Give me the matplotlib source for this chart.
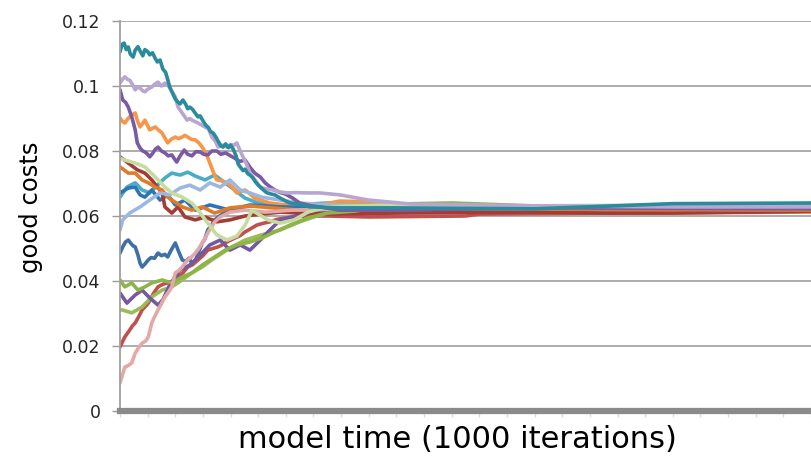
import matplotlib
matplotlib.use("Agg")
import matplotlib.pyplot as plt
import numpy as np

# ---- data (model time in iterations, good cost values) ----
teal_t = [0, 3, 6, 9, 12, 15, 19, 22, 26, 29, 33, 36, 40, 43, 47, 51, 54, 58, 62, 66,
          69, 72, 76, 80, 84, 87, 91, 95, 98, 101, 105, 109, 113, 116, 120, 124, 128, 131, 135, 139,
          142, 146, 149, 153, 157, 160, 164, 168, 171, 174, 178, 181, 185, 188, 192, 196, 200, 205, 212, 218,
          224, 232, 240, 246, 260, 275, 290, 318, 400, 600, 800, 1000]
teal_v = [0.1105, 0.1128, 0.1132, 0.1112, 0.1120, 0.1098, 0.1089, 0.1110, 0.1121, 0.1108,
          0.1093, 0.1112, 0.1106, 0.1096, 0.1102, 0.1085, 0.1074, 0.1080, 0.1052, 0.1042,
          0.1020, 0.0997, 0.0978, 0.0960, 0.0950, 0.0945, 0.0957, 0.0944, 0.0930, 0.0935,
          0.0928, 0.0916, 0.0905, 0.0908, 0.0893, 0.0880, 0.0872, 0.0860, 0.0855, 0.0842,
          0.0830, 0.0816, 0.0812, 0.0822, 0.0810, 0.0818, 0.0805, 0.0785, 0.0760, 0.0751,
          0.0740, 0.0744, 0.0730, 0.0726, 0.0718, 0.0705, 0.0695, 0.0685, 0.0672, 0.0668,
          0.0665, 0.0655, 0.0646, 0.0640, 0.0636, 0.0628, 0.0627, 0.0625, 0.0625, 0.0622, 0.0638, 0.0640]

lav_t = [0, 4, 7, 11, 14, 18, 22, 25, 29, 33, 36, 40, 46, 50, 55, 60, 65, 69, 72, 76,
         80, 84, 90, 94, 97, 101, 104, 109, 113, 118, 123, 128, 133, 138, 142, 148, 155, 160, 165, 169,
         174, 178, 183, 188, 195, 203, 210, 221, 232, 242, 255, 271, 289, 318, 360, 420, 600, 800, 1000]
lav_v = [0.1009, 0.1022, 0.1028, 0.1020, 0.1018, 0.1005, 0.0988, 0.0996, 0.0994, 0.0985,
         0.0982, 0.0990, 0.0997, 0.1005, 0.1012, 0.1000, 0.1009, 0.1003, 0.0994, 0.0980,
         0.0966, 0.0935, 0.0917, 0.0905, 0.0895, 0.0900, 0.0895, 0.0890, 0.0886, 0.0880,
         0.0874, 0.0868, 0.0843, 0.0830, 0.0812, 0.0818, 0.0812, 0.0820, 0.0818, 0.0825,
         0.0800, 0.0782, 0.0760, 0.0732, 0.0712, 0.0689, 0.0684, 0.0680, 0.0674, 0.0671,
         0.0672, 0.0671, 0.0671, 0.0665, 0.0649, 0.0637, 0.0631, 0.0628, 0.0628]

purple_t = [0, 4, 8, 12, 17, 22, 25, 29, 33, 36, 40, 43, 47, 51, 55, 60, 65, 70, 75, 79,
            82, 87, 93, 98, 104, 110, 116, 121, 127, 133, 140, 146, 153, 160, 166, 173, 181, 188, 195, 203,
            210, 217, 224, 232, 239, 250, 260, 275, 289, 318, 400, 600, 1000]
purple_v = [0.0988, 0.0957, 0.0950, 0.0935, 0.0905, 0.0865, 0.0825, 0.0809, 0.0800, 0.0797,
            0.0790, 0.0782, 0.0792, 0.0805, 0.0812, 0.0800, 0.0794, 0.0785, 0.0788, 0.0775,
            0.0766, 0.0785, 0.0803, 0.0790, 0.0785, 0.0798, 0.0797, 0.0790, 0.0788, 0.0800,
            0.0800, 0.0790, 0.0794, 0.0785, 0.0778, 0.0768, 0.0772, 0.0750, 0.0732, 0.0720,
            0.0702, 0.0690, 0.0680, 0.0672, 0.0668, 0.0655, 0.0640, 0.0632, 0.0628, 0.0618,
            0.0618, 0.0625, 0.0622]

orange_t = [0, 4, 7, 11, 14, 18, 22, 25, 29, 33, 36, 40, 43, 47, 51, 55, 61, 65, 69, 74,
            80, 85, 90, 94, 98, 103, 109, 114, 119, 125, 130, 135, 140, 148, 155, 162, 169, 175, 181, 188,
            195, 205, 217, 232, 246, 260, 289, 318, 370, 420, 600, 800, 1000]
orange_v = [0.0902, 0.0890, 0.0886, 0.0898, 0.0905, 0.0912, 0.0917, 0.0895, 0.0874, 0.0885,
            0.0895, 0.0878, 0.0865, 0.0870, 0.0874, 0.0866, 0.0855, 0.0840, 0.0825, 0.0836,
            0.0843, 0.0838, 0.0843, 0.0848, 0.0843, 0.0836, 0.0834, 0.0825, 0.0812, 0.0790,
            0.0763, 0.0735, 0.0711, 0.0708, 0.0702, 0.0690, 0.0671, 0.0676, 0.0680, 0.0668,
            0.0655, 0.0648, 0.0640, 0.0636, 0.0634, 0.0636, 0.0634, 0.0646, 0.0643, 0.0634,
            0.0625, 0.0618, 0.0612]

redbrown_t = [0, 12, 25, 36, 46, 61, 65, 75, 84, 94, 109, 123, 140, 159, 181, 205, 232, 260, 300, 400, 600, 700, 800, 1000]
redbrown_v = [0.0782, 0.0763, 0.0742, 0.0732, 0.0711, 0.0671, 0.0628, 0.0609, 0.0628, 0.0597, 0.0588, 0.0597,
              0.0582, 0.0588, 0.0600, 0.0606, 0.0612, 0.0609, 0.0606, 0.0609, 0.0612, 0.0609, 0.0609, 0.0615]

darkorange_t = [0, 12, 22, 32, 41, 51, 61, 69, 90, 104, 119, 137, 159, 188, 220, 260, 320, 500, 1000]
darkorange_v = [0.0751, 0.0732, 0.0732, 0.0711, 0.0702, 0.0689, 0.0680, 0.0658, 0.0628, 0.0618, 0.0628, 0.0609,
                0.0625, 0.0631, 0.0625, 0.0618, 0.0622, 0.0622, 0.0618]

palegreen_t = [0, 7, 22, 36, 51, 65, 75, 90, 104, 113, 127, 140, 155, 169, 181, 191, 200, 214, 232, 252, 272, 300, 400, 600, 1000]
palegreen_v = [0.0778, 0.0772, 0.0763, 0.0751, 0.0720, 0.0689, 0.0671, 0.0658, 0.0640, 0.0618, 0.0578, 0.0542,
               0.0526, 0.0538, 0.0572, 0.0618, 0.0606, 0.0588, 0.0578, 0.0588, 0.0612, 0.0628, 0.0634, 0.0631, 0.0628]

olive_t = [0, 7, 17, 26, 36, 46, 61, 75, 90, 104, 119, 135, 152, 169, 188, 205, 224, 246, 272, 300, 340, 400, 480, 600, 1000]
olive_v = [0.0403, 0.0382, 0.0394, 0.0372, 0.0382, 0.0394, 0.0403, 0.0394, 0.0412, 0.0425, 0.0449, 0.0471,
           0.0495, 0.0511, 0.0520, 0.0532, 0.0551, 0.0572, 0.0594, 0.0609, 0.0615, 0.0637, 0.0640, 0.0631, 0.0628]

green_t = [0, 3, 17, 32, 46, 61, 75, 90, 104, 119, 133, 148, 162, 181, 205, 232, 260, 289, 318, 400, 1000]
green_v = [0.0311, 0.0311, 0.0302, 0.0320, 0.0351, 0.0372, 0.0382, 0.0403, 0.0425, 0.0443, 0.0465, 0.0486,
           0.0505, 0.0526, 0.0542, 0.0557, 0.0582, 0.0603, 0.0612, 0.0618, 0.0622]

dpurple_t = [0, 10, 22, 32, 43, 55, 62, 72, 87, 101, 116, 130, 145, 159, 174, 188, 203, 217, 232, 260, 304, 400, 1000]
dpurple_v = [0.0363, 0.0332, 0.0357, 0.0372, 0.0348, 0.0326, 0.0342, 0.0388, 0.0434, 0.0449, 0.0480, 0.0511,
             0.0526, 0.0495, 0.0511, 0.0495, 0.0526, 0.0557, 0.0588, 0.0603, 0.0618, 0.0622, 0.0625]

red_t = [0, 4, 7, 11, 14, 18, 22, 27, 32, 36, 41, 48, 55, 62, 69, 76, 84, 91, 98, 105,
         113, 120, 127, 134, 142, 147, 152, 159, 166, 174, 181, 190, 198, 208, 217, 228, 240, 255, 270, 300,
         360, 500, 520, 700, 1000]
red_v = [0.0197, 0.0215, 0.0228, 0.0240, 0.0249, 0.0262, 0.0271, 0.0290, 0.0311, 0.0320,
         0.0332, 0.0360, 0.0382, 0.0390, 0.0394, 0.0400, 0.0412, 0.0425, 0.0443, 0.0450,
         0.0465, 0.0478, 0.0495, 0.0500, 0.0505, 0.0510, 0.0517, 0.0525, 0.0532, 0.0540,
         0.0551, 0.0562, 0.0572, 0.0578, 0.0582, 0.0590, 0.0594, 0.0598, 0.0600, 0.0600,
         0.0597, 0.0600, 0.0606, 0.0609, 0.0612]

pink_t = [0, 4, 7, 12, 17, 22, 27, 32, 37, 41, 46, 50, 55, 60, 65, 70, 75, 80, 85, 90,
          94, 98, 104, 109, 114, 119, 123, 127, 132, 137, 145, 159, 181, 210, 250, 320, 500, 1000]
pink_v = [0.0086, 0.0115, 0.0135, 0.0140, 0.0148, 0.0178, 0.0195, 0.0209, 0.0215, 0.0228,
          0.0271, 0.0290, 0.0311, 0.0330, 0.0351, 0.0365, 0.0382, 0.0425, 0.0432, 0.0443,
          0.0455, 0.0465, 0.0475, 0.0486, 0.0500, 0.0517, 0.0530, 0.0548, 0.0565, 0.0582,
          0.0597, 0.0612, 0.0618, 0.0612, 0.0618, 0.0622, 0.0625, 0.0625]

dblue_t = [0, 4, 8, 12, 16, 19, 22, 26, 29, 32, 36, 41, 45, 50, 55, 60, 65, 69, 74, 80,
           85, 90, 95, 100, 104, 109, 114, 119, 123, 127, 132, 137, 144, 152, 160, 170, 185, 200, 220, 240,
           270, 300, 500, 1000]
dblue_v = [0.0486, 0.0505, 0.0520, 0.0526, 0.0515, 0.0508, 0.0505, 0.0480, 0.0455, 0.0443,
           0.0452, 0.0465, 0.0472, 0.0470, 0.0486, 0.0478, 0.0482, 0.0474, 0.0495, 0.0517,
           0.0490, 0.0465, 0.0460, 0.0470, 0.0455, 0.0462, 0.0490, 0.0517, 0.0530, 0.0557,
           0.0570, 0.0588, 0.0600, 0.0612, 0.0620, 0.0625, 0.0630, 0.0634, 0.0628, 0.0625,
           0.0623, 0.0622, 0.0622, 0.0625]

blue_t = [0, 12, 22, 29, 36, 46, 58, 69, 80, 94, 109, 130, 159, 188, 232, 300, 500, 1000]
blue_v = [0.0671, 0.0686, 0.0689, 0.0665, 0.0658, 0.0680, 0.0649, 0.0665, 0.0634, 0.0649, 0.0618, 0.0634,
          0.0618, 0.0634, 0.0628, 0.0625, 0.0625, 0.0628]

lblue_t = [0, 4, 14, 29, 43, 58, 72, 87, 101, 116, 130, 145, 159, 174, 188, 205, 232, 260, 300, 500, 1000]
lblue_v = [0.0557, 0.0588, 0.0609, 0.0628, 0.0649, 0.0671, 0.0665, 0.0686, 0.0695, 0.0680, 0.0702, 0.0689,
           0.0711, 0.0680, 0.0671, 0.0658, 0.0649, 0.0640, 0.0634, 0.0631, 0.0634]

aqua_t = [0, 10, 22, 32, 43, 54, 65, 75, 87, 98, 109, 123, 137, 152, 166, 181, 200, 230, 275, 300, 400, 600, 700, 1000]
aqua_v = [0.0658, 0.0689, 0.0702, 0.0680, 0.0671, 0.0695, 0.0717, 0.0732, 0.0726, 0.0735, 0.0723, 0.0711,
          0.0726, 0.0702, 0.0680, 0.0655, 0.0640, 0.0634, 0.0637, 0.0640, 0.0631, 0.0622, 0.0618, 0.0637]

series = [
    (dblue_t, dblue_v, "#3F6FA8"),
    (red_t, red_v, "#C0504D"),
    (green_t, green_v, "#9BBB59"),
    (dpurple_t, dpurple_v, "#7458A0"),
    (aqua_t, aqua_v, "#4BACC6"),
    (orange_t, orange_v, "#F79646"),
    (blue_t, blue_v, "#2E75B6"),
    (redbrown_t, redbrown_v, "#A33B36"),
    (olive_t, olive_v, "#8DB448"),
    (darkorange_t, darkorange_v, "#E07B2A"),
    (lblue_t, lblue_v, "#9DB8E0"),
    (pink_t, pink_v, "#E3A9A6"),
    (palegreen_t, palegreen_v, "#C6DBA0"),
    (purple_t, purple_v, "#7A5BA3"),
    (lav_t, lav_v, "#B7A6CF"),
    (teal_t, teal_v, "#2A8B9C"),
]

yticks = [0, 0.02, 0.04, 0.06, 0.08, 0.1, 0.12]
ytick_labels = ["0", "0.02", "0.04", "0.06", "0.08", "0.1", "0.12"]

fig = plt.figure(figsize=(8.11, 4.68), dpi=100)
ax = fig.add_axes([120 / 811, 57 / 468, 691 / 811, 390 / 468])

for t, v, c in series:
    ax.plot(t, v, color=c, lw=2.6, solid_joinstyle="round", solid_capstyle="round")

ax.set_xlim(0, 1000)
ax.set_ylim(0, 0.12)
ax.set_yticks(yticks)
ax.set_yticklabels(ytick_labels, fontsize=12.5, color="#262626")
ax.set_xticks(np.arange(0, 1001, 40))
ax.set_xticklabels([])
ax.tick_params(axis="x", length=4, color="#dddddd", width=1)
ax.tick_params(axis="y", length=6, color="#999999", width=1, pad=8)

ax.yaxis.grid(True, color="#a6a6a6", lw=1.3)
ax.set_axisbelow(True)
for s in ["top", "right"]:
    ax.spines[s].set_visible(False)
ax.spines["left"].set_color("#a0a0a0")
ax.spines["left"].set_linewidth(1.3)
ax.spines["bottom"].set_color("#8a8a8a")
ax.spines["bottom"].set_linewidth(4.5)
ax.spines["bottom"].set_zorder(5)

ax.set_ylabel("good costs", fontsize=17.5)
ax.yaxis.set_label_coords(-0.112, 0.523)
ax.set_xlabel("model time (1000 iterations)", fontsize=22)
ax.xaxis.set_label_coords(0.488, -0.035)

fig.savefig("out.png", dpi=100)
